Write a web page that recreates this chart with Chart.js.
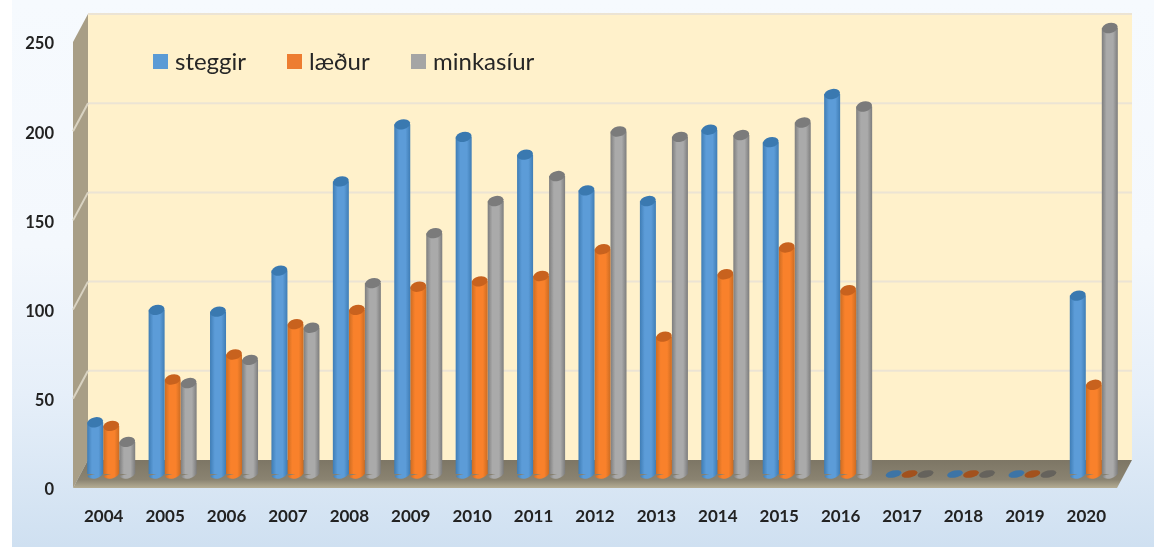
<!DOCTYPE html>
<html>
<head>
<meta charset="utf-8">
<style>
    html, body { margin: 0; padding: 0; background: #fff; }
    #wrap { position: relative; width: 1163px; height: 547px; overflow: hidden; }
    #panel {
        position: absolute; left: 12px; top: 0; width: 1142px; height: 547px;
        background: linear-gradient(to bottom, #f6fafe 0%, #f4f8fd 45%, #e6eff9 72%, #cfe0f1 100%);
    }
    #chart { position: absolute; left: 0; top: 0; }
</style>
</head>
<body>
<div id="wrap">
    <div id="panel"></div>
    <canvas id="chart" width="1163" height="547"></canvas>
</div>
<script src="https://cdn.jsdelivr.net/npm/chart.js@4/dist/chart.umd.min.js"></script>
<script>
const years = ['2004', '2005', '2006', '2007', '2008', '2009', '2010', '2011', '2012', '2013', '2014', '2015', '2016', '2017', '2018', '2019', '2020'];
const steggir = [29, 92, 91, 114, 164, 196, 189, 179, 159, 153, 193, 186, 213, 0, 0, 0, 100];
const laedur = [27, 53, 67, 84, 92, 105, 108, 111, 126, 77, 112, 127, 103, 0, 0, 0, 50];
const minkasiur = [18, 51, 64, 82, 107, 135, 153, 167, 192, 189, 190, 197, 206, 0, 0, 0, 250];
const seriesNames = ['steggir', 'læður', 'minkasíur'];
const yTicks = [0, 50, 100, 150, 200, 250];

// edge / middle / cap / flat (empty year) colours per series
const palette = [
    { edge: '#3f7db5', mid: '#5c9cd8', cap: '#3a79b0', flat: '#3d74a6', box: '#5b9bd5' },
    { edge: '#cc6c22', mid: '#f9812b', cap: '#c8621e', flat: '#a2511d', box: '#ed7d31' },
    { edge: '#7d7d7d', mid: '#aaaaaa', cap: '#7b7b7b', flat: '#65625c', box: '#a5a5a5' }
];

const DEPTH_X = 15, DEPTH_Y = 28;
const BAR_W = 16;

const canvas = document.getElementById('chart');
const ctx = canvas.getContext('2d');

// cylinder shading, one horizontal gradient per bar
function barFill(context) {
    const chart = context.chart;
    const p = palette[context.datasetIndex];
    const xScale = chart.scales.x;
    if (!xScale || context.type !== 'data') return p.mid;
    const c = xScale.getPixelForValue(context.dataIndex) + (context.datasetIndex - 1) * BAR_W;
    if (!Number.isFinite(c)) return p.mid;
    const g = chart.ctx.createLinearGradient(c - BAR_W / 2, 0, c + BAR_W / 2, 0);
    g.addColorStop(0, p.edge);
    g.addColorStop(0.3, p.mid);
    g.addColorStop(0.7, p.mid);
    g.addColorStop(1, p.edge);
    return g;
}

function flatEllipse(c, x, y, rx, ry, start, end) {
    c.beginPath();
    c.ellipse(x, y, rx, ry, -0.22, start, end);
    c.closePath();
    c.fill();
}

// back wall, side wall, floor and the grid lines on them
const room = {
    id: 'room',
    beforeDraw(chart) {
        const c = chart.ctx;
        const a = chart.chartArea;
        const y = chart.scales.y;
        const bottom = y.getPixelForValue(0);
        const top = y.getPixelForValue(250);
        c.save();
        c.fillStyle = '#fff1cb';
        c.fillRect(a.left + DEPTH_X, top - DEPTH_Y, a.right - a.left, bottom - top);

        c.fillStyle = '#a89e86';
        c.beginPath();
        c.moveTo(a.left, bottom);
        c.lineTo(a.left, top);
        c.lineTo(a.left + DEPTH_X, top - DEPTH_Y);
        c.lineTo(a.left + DEPTH_X, bottom - DEPTH_Y);
        c.closePath();
        c.fill();

        const floor = c.createLinearGradient(0, bottom - DEPTH_Y, 0, bottom);
        floor.addColorStop(0, '#7d7665');
        floor.addColorStop(0.7, '#8a8371');
        floor.addColorStop(1, '#b5ad94');
        c.fillStyle = floor;
        c.beginPath();
        c.moveTo(a.left, bottom);
        c.lineTo(a.left + DEPTH_X, bottom - DEPTH_Y);
        c.lineTo(a.right + DEPTH_X, bottom - DEPTH_Y);
        c.lineTo(a.right, bottom);
        c.closePath();
        c.fill();

        c.lineWidth = 2;
        yTicks.forEach(v => {
            if (v === 0) return;
            const py = y.getPixelForValue(v);
            c.strokeStyle = '#ece4d4';
            c.beginPath();
            c.moveTo(a.left + DEPTH_X, py - DEPTH_Y);
            c.lineTo(a.right + DEPTH_X, py - DEPTH_Y);
            c.stroke();
            if (v === 250) return;
            c.strokeStyle = '#d9d3c2';
            c.beginPath();
            c.moveTo(a.left, py);
            c.lineTo(a.left + DEPTH_X, py - DEPTH_Y);
            c.stroke();
        });
        c.restore();
    },
    // bars stand in the middle of the floor depth
    beforeDatasetsDraw(chart) {
        chart.ctx.save();
        chart.ctx.translate(DEPTH_X / 2, -DEPTH_Y / 2);
    },
    beforeDatasetDraw(chart, args) {
        const c = chart.ctx;
        chart.getDatasetMeta(args.index).data.forEach((bar, i) => {
            if (chart.data.datasets[args.index].data[i] === 0) return;
            c.fillStyle = bar.options.backgroundColor;
            flatEllipse(c, bar.x, bar.base, BAR_W / 2, 4.5, 0, Math.PI);
        });
    },
    afterDatasetDraw(chart, args) {
        const c = chart.ctx;
        const p = palette[args.index];
        chart.getDatasetMeta(args.index).data.forEach((bar, i) => {
            const empty = chart.data.datasets[args.index].data[i] === 0;
            c.fillStyle = empty ? p.flat : p.cap;
            flatEllipse(c, bar.x, bar.y, BAR_W / 2, empty ? 3.5 : 5, 0, Math.PI * 2);
        });
    },
    afterDatasetsDraw(chart) {
        chart.ctx.restore();
    }
};

// legend sits inside the plot, on the back wall
const wallLegend = {
    id: 'wallLegend',
    afterDraw(chart) {
        const c = chart.ctx;
        const boxX = [153, 287, 411];
        c.save();
        c.font = '24px Lato';
        c.textBaseline = 'middle';
        c.textAlign = 'left';
        seriesNames.forEach((name, i) => {
            c.fillStyle = palette[i].box;
            c.fillRect(boxX[i], 54, 15, 15);
            c.fillStyle = '#262626';
            c.fillText(name, boxX[i] + 22, 62);
        });
        c.restore();
    }
};

new Chart(ctx, {
    type: 'bar',
    data: {
        labels: years,
        datasets: [
            { label: seriesNames[0], data: steggir, backgroundColor: barFill },
            { label: seriesNames[1], data: laedur, backgroundColor: barFill },
            { label: seriesNames[2], data: minkasiur, backgroundColor: barFill }
        ]
    },
    options: {
        responsive: false,
        animation: false,
        clip: false,
        layout: { padding: { top: 42, right: 46, left: 0, bottom: 0 } },
        datasets: {
            bar: {
                barPercentage: 1,
                categoryPercentage: 0.782,
                borderWidth: 0
            }
        },
        plugins: {
            legend: { display: false },
            tooltip: { enabled: false }
        },
        scales: {
            x: {
                grid: { display: false },
                border: { display: false },
                afterFit: scale => { scale.height = 59; },
                ticks: {
                    padding: 10,
                    color: '#222',
                    maxRotation: 0,
                    autoSkip: false,
                    font: { family: 'Lato', size: 17, weight: 'bold' }
                }
            },
            y: {
                min: 0,
                max: 250,
                afterFit: scale => { scale.width = 73; },
                afterBuildTicks: scale => { scale.ticks = yTicks.map(v => ({ value: v })); },
                grid: { display: false },
                border: { display: false },
                ticks: {
                    padding: 11,
                    labelOffset: 2,
                    color: '#222',
                    font: { family: 'Lato', size: 16.5, weight: 'bold' }
                }
            }
        }
    },
    plugins: [room, wallLegend]
});
</script>
</body>
</html>
